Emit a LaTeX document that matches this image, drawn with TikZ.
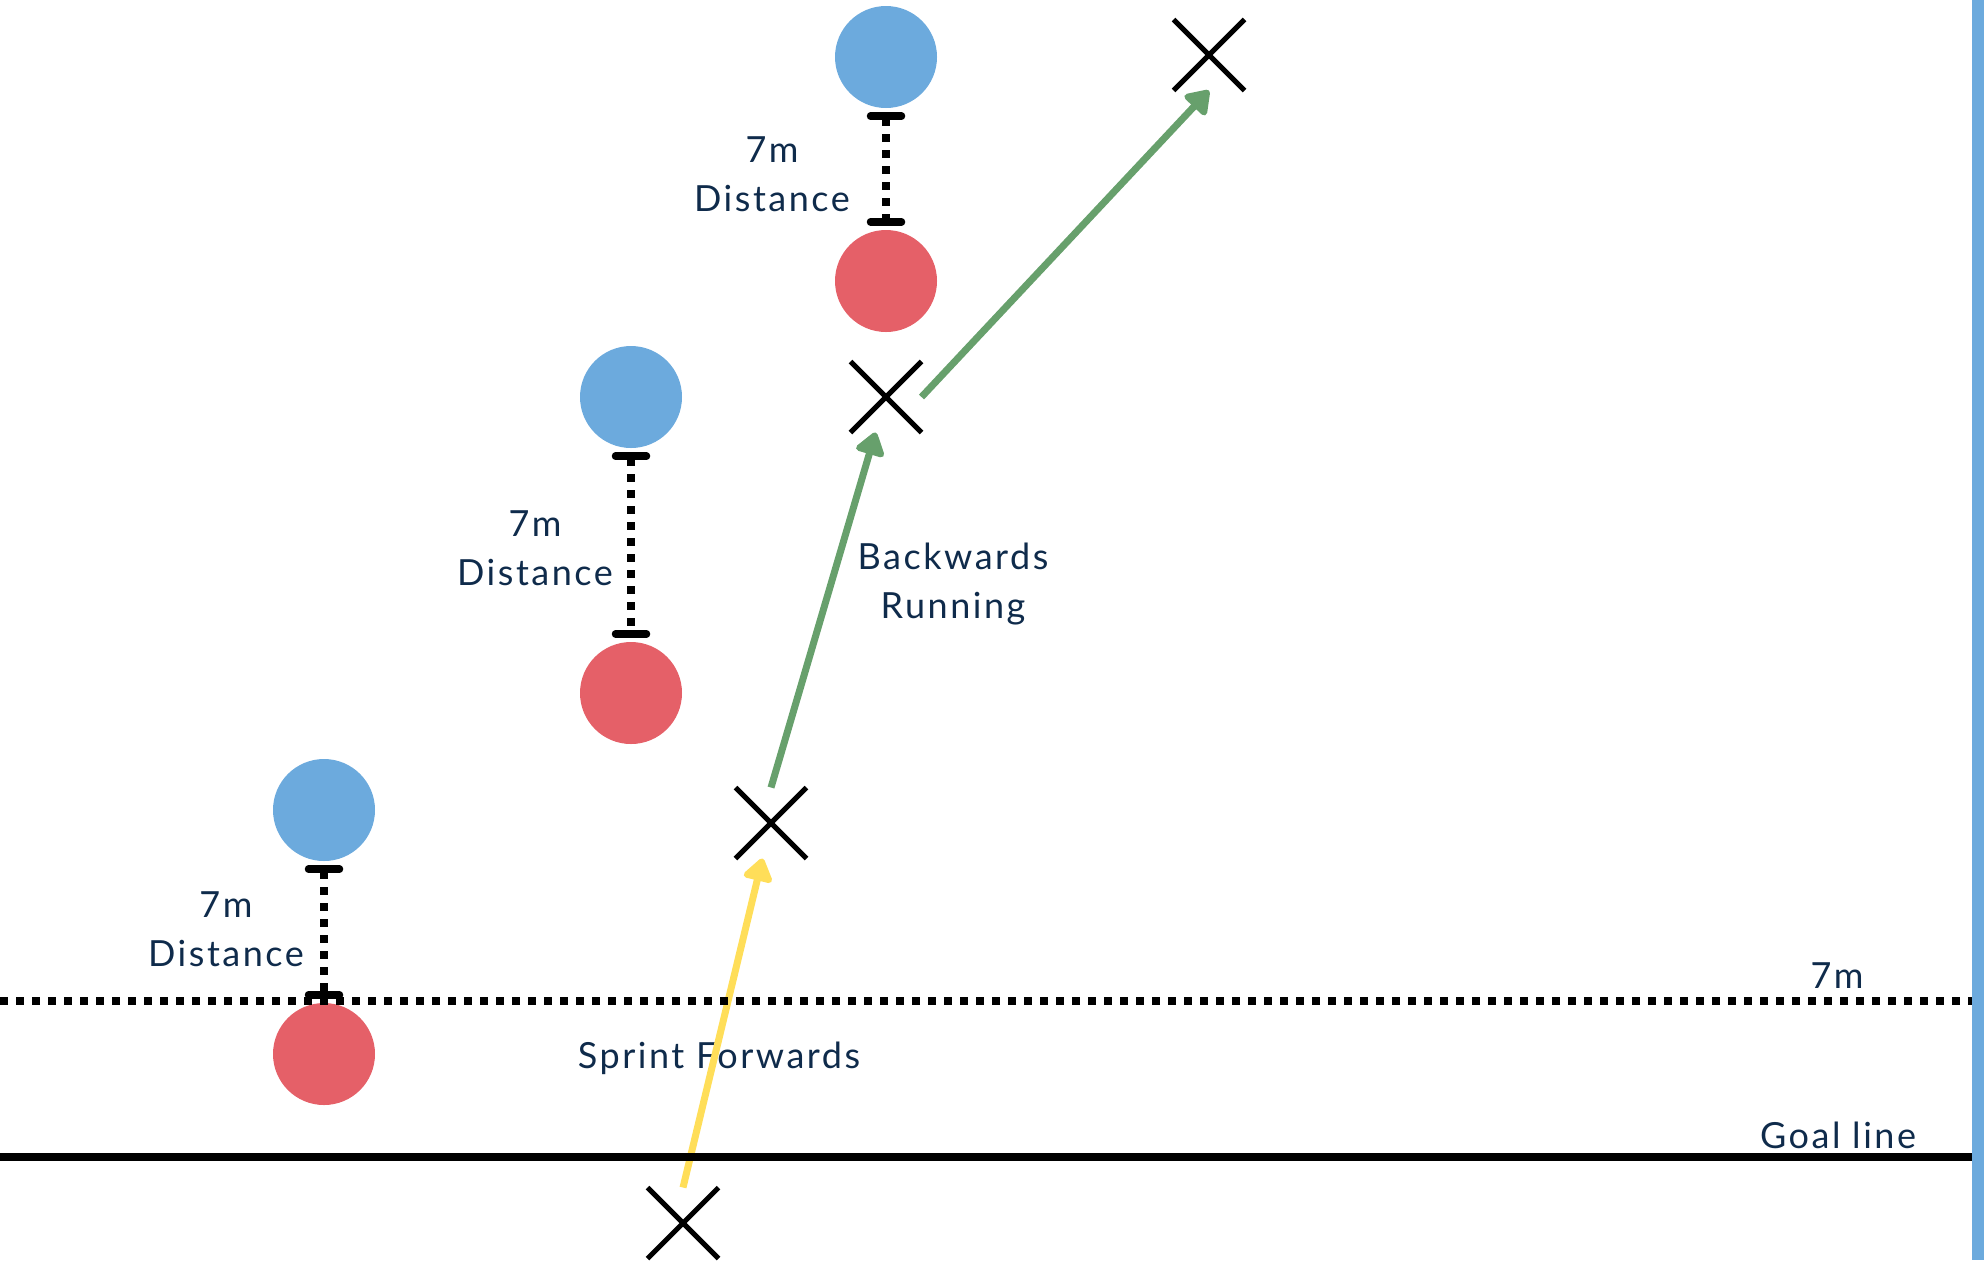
\documentclass[tikz,border=0pt]{standalone}
\usepackage{fontspec}
\setmainfont[LetterSpace=7]{Lato}
\usetikzlibrary{arrows.meta,shapes.misc}
\definecolor{PlayerBlue}{HTML}{6CAADD}
\definecolor{PlayerRed}{HTML}{E56068}
\definecolor{RunGreen}{HTML}{67A06C}
\definecolor{SprintYellow}{HTML}{FFDE59}
\definecolor{LabelNavy}{HTML}{0F2B4B}

\begin{document}
\begin{tikzpicture}[x=.5pt,y=-.5pt]

\tikzset{BlueStyle/.style  = {circle, fill=PlayerBlue, minimum size=51pt, inner sep=0pt},
         RedStyle/.style   = {circle, fill=PlayerRed, minimum size=51pt, inner sep=0pt},
         CrossStyle/.style = {cross out, draw=black, line width=2.5pt, minimum size=33pt, inner sep=0pt},
         LabelStyle/.style = {text=LabelNavy, font=\fontsize{18}{24.5}\selectfont, align=center},
         GapStyle/.style   = {line width=4pt, dash pattern=on 4pt off 4pt,
                              {Bar[width=15.5pt,line width=3.75pt,round]}-{Bar[width=15.5pt,line width=3.75pt,round]},
                              shorten <=2pt, shorten >=2pt},
         RunStyle/.style   = {line width=3.5pt, -{Triangle[length=12.5pt,width=16.5pt,round]}}}

\useasboundingbox (0,0) rectangle (1984,1260);

\node[BlueStyle] (B1) at (886,57) {};
\node[RedStyle]  (R1) at (886,281) {};
\node[BlueStyle] (B2) at (631,397) {};
\node[RedStyle]  (R2) at (631,693) {};
\node[BlueStyle] (B3) at (324,810) {};
\node[RedStyle]  (R3) at (324,1054) {};

\node[CrossStyle] (X1) at (1209,55) {};
\node[CrossStyle] (X2) at (886,397) {};
\node[CrossStyle] (X3) at (771,823) {};
\node[CrossStyle] (X4) at (683,1223) {};

\node[LabelStyle] (SevenM)    at (1837,976)  {7m};
\node[LabelStyle] (GoalLbl)   at (1838,1135) {Goal line};
\node[LabelStyle] (SprintLbl) at (719,1058)  {Sprint Forwards};
\node[LabelStyle] (BackLbl)   at (953,584)   {Backwards\\Running};
\node[LabelStyle] (DistA)     at (772,174)   {7m\\Distance};
\node[LabelStyle] (DistB)     at (535,548)   {7m\\Distance};
\node[LabelStyle] (DistC)     at (226,929)   {7m\\Distance};

\draw[RunStyle, draw=SprintYellow, fill=SprintYellow] (X4.north) -- (X3);
\draw[RunStyle, draw=RunGreen, fill=RunGreen] (X3.north) -- (X2);
\draw[RunStyle, draw=RunGreen, fill=RunGreen] (X2.east) -- (X1.south);

\coordinate (SevenW) at (0,1001);
\coordinate (SevenE) at (1972,1001);
\coordinate (GoalW)  at (0,1157);
\coordinate (GoalE)  at (1972,1157);

\draw[line width=4pt, dash pattern=on 4pt off 4pt] (SevenW) -- (SevenE);
\draw[line width=4pt] (GoalW) -- (GoalE);
\fill[PlayerBlue] (1972,0) rectangle (1984,1260);

\draw[GapStyle] (B1.south) -- (R1.north);
\draw[GapStyle] (B2.south) -- (R2.north);
\draw[GapStyle] (B3.south) -- (R3.north);

\end{tikzpicture}
\end{document}
